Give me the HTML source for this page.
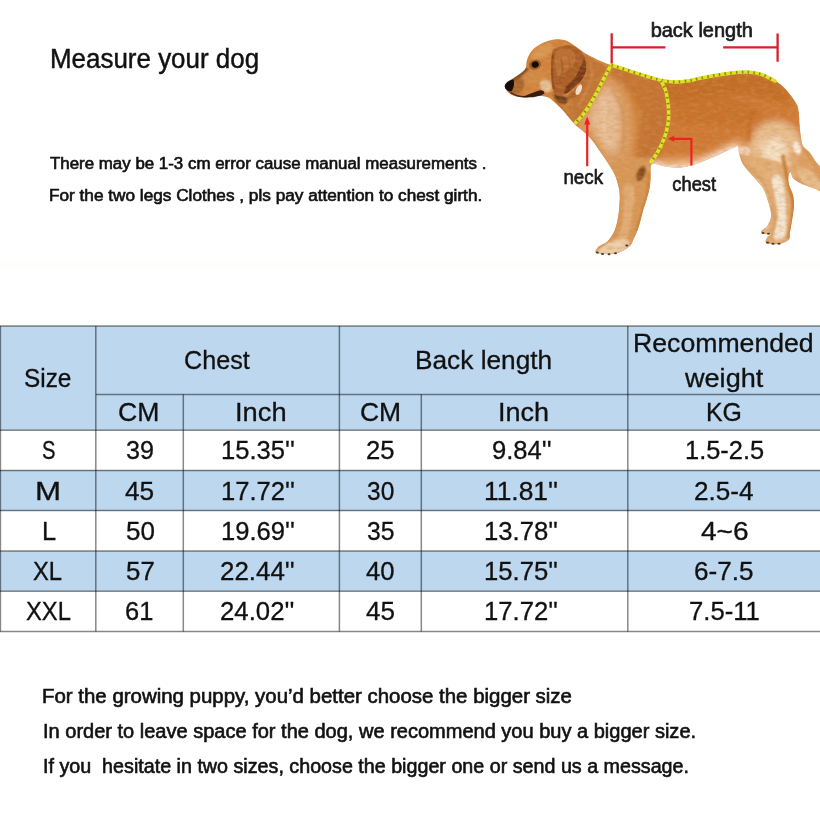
<!DOCTYPE html>
<html lang="en">
<head>
<meta charset="utf-8">
<title>Measure your dog - size chart</title>
<style>
html,body{margin:0;padding:0;background:#fff;}
body{width:820px;height:820px;position:relative;overflow:hidden;font-family:"Liberation Sans",sans-serif;color:#111;}
.t{position:absolute;white-space:pre;line-height:1;transform-origin:0 0;margin:0;font-weight:normal;}
.sb{-webkit-text-stroke:0.6px #111;}
#h1{-webkit-text-stroke:0.45px #111;}
table span{-webkit-text-stroke:0.3px #111;}
#dog{position:absolute;left:0;top:0;}
#grid{position:absolute;left:0;top:0;pointer-events:none;}
table{position:absolute;left:0;top:326px;width:820px;border-collapse:collapse;border-spacing:0;table-layout:fixed;font-size:25px;}
#band{position:absolute;left:0;top:263px;width:820px;height:4px;background:#fffdf8;}
td,th{padding:0;margin:0;font-weight:normal;text-align:center;vertical-align:middle;overflow:visible;}
.b{background:#bdd7ee;}
td span,th span{position:absolute;white-space:pre;line-height:1;transform-origin:0 0;left:0;top:0;}
</style>
</head>
<body>
<div id="band"></div>
<svg id="dog" width="820" height="820" viewBox="0 0 820 820" role="img" aria-label="Dog measuring guide">
<defs>
<clipPath id="dc"><path d="M504.9,86.3 C504.9,84.8 506.1,83.3 507.5,82.0 C508.9,80.7 510.6,80.1 513.0,78.5 C515.4,76.9 519.8,74.1 522.0,72.3 C524.2,70.5 525.1,69.6 526.0,67.5 C526.9,65.4 526.2,62.2 527.2,59.5 C528.2,56.8 529.5,53.5 531.7,51.0 C533.9,48.5 537.1,46.1 540.2,44.3 C543.3,42.5 547.2,41.0 550.5,40.2 C553.8,39.4 557.2,39.2 560.0,39.4 C562.8,39.6 565.0,40.1 567.5,41.2 C570.0,42.3 572.0,44.0 575.0,46.0 C578.0,48.0 581.2,50.9 585.4,53.4 C589.6,55.9 595.8,58.8 600.0,60.7 C604.2,62.6 606.3,63.6 610.7,65.0 C615.1,66.4 620.9,67.6 626.6,69.3 C632.3,71.0 639.2,73.7 644.9,75.4 C650.6,77.1 655.6,78.6 660.7,79.6 C665.8,80.6 670.5,81.2 675.4,81.3 C680.3,81.4 686.4,80.5 690.0,80.0 C693.6,79.5 693.0,79.2 697.0,78.4 C701.0,77.6 708.4,76.0 714.1,75.0 C719.8,74.0 725.5,73.0 731.2,72.4 C736.9,71.8 743.2,71.3 748.3,71.6 C753.4,71.9 757.5,72.5 762.0,74.1 C766.5,75.7 771.6,78.4 775.6,81.0 C779.6,83.6 782.5,85.8 785.9,89.5 C789.3,93.2 794.0,99.5 796.1,103.2 C798.2,106.9 798.1,108.0 798.7,111.7 C799.3,115.4 799.1,120.9 799.5,125.4 C799.9,130.0 800.6,135.6 801.2,139.0 C801.8,142.4 801.6,143.6 803.0,145.9 C804.4,148.2 807.6,150.0 809.8,152.7 C812.0,155.4 814.0,158.9 816.0,162.0 C818.0,165.1 820.8,166.2 822.0,171.0 C823.2,175.8 824.0,188.0 823.0,191.0 C822.0,194.0 818.3,189.8 816.0,189.1 C813.7,188.4 811.8,187.6 809.3,186.6 C806.8,185.6 803.3,184.5 800.7,183.2 C798.1,181.8 795.2,180.4 793.5,178.5 C791.8,176.6 791.4,172.4 790.5,172.0 C789.6,171.6 788.6,174.2 788.4,176.3 C788.1,178.5 788.2,181.8 789.0,184.9 C789.8,188.0 792.2,191.7 793.0,195.1 C793.8,198.5 794.0,201.4 793.9,205.4 C793.8,209.4 792.9,214.4 792.2,219.0 C791.5,223.6 790.4,229.3 789.8,232.7 C789.2,236.1 790.4,237.7 788.8,239.5 C787.2,241.3 783.6,243.1 780.2,243.8 C776.8,244.5 770.7,244.2 768.3,243.8 C765.9,243.4 765.8,242.3 765.7,241.2 C765.6,240.1 766.6,238.2 767.5,237.0 C768.4,235.8 771.7,234.6 771.0,234.0 C770.3,233.4 764.8,234.0 763.2,233.5 C761.6,233.0 760.8,232.3 761.5,231.0 C762.2,229.7 765.9,228.4 767.5,225.8 C769.1,223.2 771.1,219.6 771.2,215.6 C771.3,211.6 769.6,206.4 768.3,201.9 C767.0,197.4 765.5,192.3 763.2,188.3 C760.9,184.3 757.9,182.0 754.6,178.0 C751.3,174.0 745.8,168.4 743.2,164.4 C740.7,160.4 740.2,157.1 739.3,154.1 C738.4,151.1 739.0,147.5 738.0,146.5 C737.0,145.5 736.5,146.5 733.0,148.0 C729.5,149.5 721.7,153.4 717.0,155.5 C712.3,157.6 709.0,158.9 705.0,160.5 C701.0,162.1 697.3,163.8 693.0,165.0 C688.7,166.2 683.9,167.3 679.3,167.6 C674.7,167.9 669.5,167.2 665.6,166.6 C661.7,166.0 658.4,164.2 656.0,164.0 C653.6,163.8 651.9,163.4 651.0,165.5 C650.1,167.6 650.8,172.6 650.6,176.3 C650.4,180.1 650.3,184.1 649.6,188.0 C648.9,191.9 647.5,196.3 646.4,200.0 C645.3,203.7 644.2,206.7 643.2,210.0 C642.2,213.3 641.5,216.7 640.6,220.0 C639.7,223.3 638.8,226.8 637.6,230.0 C636.4,233.2 634.9,236.3 633.6,239.0 C632.3,241.7 632.1,244.0 629.6,246.3 C627.1,248.6 623.0,251.3 618.8,252.6 C614.5,253.9 608.0,254.1 604.1,254.0 C600.2,253.9 596.5,253.6 595.6,252.3 C594.8,251.0 597.0,248.2 599.0,246.3 C601.0,244.5 605.0,243.8 607.6,241.2 C610.2,238.6 612.7,234.7 614.4,231.0 C616.1,227.3 616.9,223.3 617.8,219.0 C618.6,214.7 619.2,210.0 619.5,205.4 C619.8,200.8 620.1,196.3 619.5,191.7 C618.9,187.1 617.5,182.0 616.1,178.0 C614.7,174.0 613.6,172.1 611.0,167.8 C608.4,163.5 604.0,157.1 600.7,152.4 C597.5,147.7 594.3,142.9 591.5,139.5 C588.7,136.1 586.6,134.3 584.0,132.0 C581.4,129.7 578.6,128.0 576.0,125.5 C573.4,123.0 570.8,119.7 568.3,116.8 C565.8,113.9 563.4,110.8 561.0,108.3 C558.6,105.8 556.0,103.3 553.7,101.5 C551.5,99.7 550.4,98.2 547.5,97.2 C544.6,96.2 540.5,95.8 536.6,95.8 C532.8,95.8 528.3,97.3 524.4,97.3 C520.5,97.2 516.2,96.5 513.4,95.5 C510.5,94.5 508.7,92.7 507.3,91.2 C505.9,89.7 504.9,87.8 504.9,86.3Z"/></clipPath>
<filter id="soft" x="-10%" y="-10%" width="120%" height="120%"><feGaussianBlur stdDeviation="0.5"/></filter>
<filter id="fur" x="0" y="0" width="100%" height="100%"><feTurbulence type="fractalNoise" baseFrequency="0.14 0.32" numOctaves="2" seed="7"/><feColorMatrix type="matrix" values="0 0 0 0 0.55  0 0 0 0 0.26  0 0 0 0 0.06  1.6 0 0 0 -0.62"/></filter>
<filter id="fur2" x="0" y="0" width="100%" height="100%"><feTurbulence type="fractalNoise" baseFrequency="0.16 0.3" numOctaves="2" seed="11"/><feColorMatrix type="matrix" values="0 0 0 0 1  0 0 0 0 0.9  0 0 0 0 0.75  1.6 0 0 0 -0.7"/></filter>
<filter id="bl3" x="-20%" y="-20%" width="140%" height="140%"><feGaussianBlur stdDeviation="0.7"/></filter>
<filter id="bl2" x="-20%" y="-20%" width="140%" height="140%"><feGaussianBlur stdDeviation="1.1"/></filter>
<filter id="bl" x="-20%" y="-20%" width="140%" height="140%"><feGaussianBlur stdDeviation="3"/></filter>
</defs>
<g filter="url(#soft)">
<g clip-path="url(#dc)">
<rect x="495" y="30" width="330" height="235" fill="#d68c46"/>
<g filter="url(#bl)"><path d="M655.0,78.0 C662.5,74.0 684.2,77.3 700.0,76.0 C715.8,74.7 736.7,69.0 750.0,70.0 C763.3,71.0 772.0,75.3 780.0,82.0 C788.0,88.7 794.7,100.3 798.0,110.0 C801.3,119.7 806.3,135.0 800.0,140.0 C793.7,145.0 770.3,138.3 760.0,140.0 C749.7,141.7 748.0,145.7 738.0,150.0 C728.0,154.3 713.0,162.7 700.0,166.0 C687.0,169.3 668.3,174.3 660.0,170.0 C651.7,165.7 650.8,151.7 650.0,140.0 C649.2,128.3 654.2,110.3 655.0,100.0 C655.8,89.7 647.5,82.0 655.0,78.0Z" fill="#cf7832" opacity="0.97"/><path d="M664.0,80.0 C669.3,76.3 685.7,79.5 700.0,78.0 C714.3,76.5 737.0,70.3 750.0,71.0 C763.0,71.7 770.5,76.5 778.0,82.0 C785.5,87.5 796.3,101.0 795.0,104.0 C793.7,107.0 779.2,101.7 770.0,100.0 C760.8,98.3 751.7,94.3 740.0,94.0 C728.3,93.7 712.0,97.0 700.0,98.0 C688.0,99.0 674.0,103.0 668.0,100.0 C662.0,97.0 658.7,83.7 664.0,80.0Z" fill="#c06a26" opacity="0.8"/><path d="M672.0,100.0 C676.0,95.7 688.7,96.0 700.0,96.0 C711.3,96.0 730.0,97.3 740.0,100.0 C750.0,102.7 760.0,107.7 760.0,112.0 C760.0,116.3 750.0,124.0 740.0,126.0 C730.0,128.0 710.7,124.7 700.0,124.0 C689.3,123.3 680.7,126.0 676.0,122.0 C671.3,118.0 668.0,104.3 672.0,100.0Z" fill="#c46c26" opacity="0.6"/><path d="M656.0,160.0 C663.5,157.7 686.3,159.3 700.0,156.0 C713.7,152.7 731.0,140.7 738.0,140.0 C745.0,139.3 745.8,148.3 742.0,152.0 C738.2,155.7 725.3,158.7 715.0,162.0 C704.7,165.3 690.0,170.7 680.0,172.0 C670.0,173.3 659.0,172.0 655.0,170.0 C651.0,168.0 648.5,162.3 656.0,160.0Z" fill="#eeb27a" opacity="0.9"/><path d="M612.0,64.0 C617.0,63.3 631.7,69.3 640.0,72.0 C648.3,74.7 657.3,73.7 662.0,80.0 C666.7,86.3 667.7,100.0 668.0,110.0 C668.3,120.0 667.0,131.0 664.0,140.0 C661.0,149.0 654.7,161.3 650.0,164.0 C645.3,166.7 638.0,164.0 636.0,156.0 C634.0,148.0 639.7,127.3 638.0,116.0 C636.3,104.7 630.7,94.7 626.0,88.0 C621.3,81.3 612.3,80.0 610.0,76.0 C607.7,72.0 607.0,64.7 612.0,64.0Z" fill="#c47230" opacity="0.95"/><path d="M594.0,98.0 C599.0,90.7 603.7,79.7 608.0,78.0 C612.3,76.3 616.3,82.7 620.0,88.0 C623.7,93.3 628.0,101.3 630.0,110.0 C632.0,118.7 632.7,131.0 632.0,140.0 C631.3,149.0 629.3,159.3 626.0,164.0 C622.7,168.7 616.3,170.0 612.0,168.0 C607.7,166.0 604.3,158.3 600.0,152.0 C595.7,145.7 589.7,135.0 586.0,130.0 C582.3,125.0 576.7,127.3 578.0,122.0 C579.3,116.7 589.0,105.3 594.0,98.0Z" fill="#dc9f66" opacity="0.9"/><path d="M596.0,100.0 C598.7,95.0 602.7,88.7 606.0,88.0 C609.3,87.3 613.7,90.7 616.0,96.0 C618.3,101.3 619.7,111.7 620.0,120.0 C620.3,128.3 620.0,140.7 618.0,146.0 C616.0,151.3 611.7,154.0 608.0,152.0 C604.3,150.0 599.0,139.7 596.0,134.0 C593.0,128.3 590.0,123.7 590.0,118.0 C590.0,112.3 593.3,105.0 596.0,100.0Z" fill="#e8c09a" opacity="0.9"/><path d="M748.0,150.0 C749.0,143.7 752.0,134.8 756.0,130.0 C760.0,125.2 766.2,121.8 772.0,121.0 C777.8,120.2 786.3,122.3 791.0,125.0 C795.7,127.7 798.2,132.8 800.0,137.0 C801.8,141.2 803.0,145.5 802.0,150.0 C801.0,154.5 796.0,158.0 794.0,164.0 C792.0,170.0 793.0,181.7 790.0,186.0 C787.0,190.3 781.0,190.7 776.0,190.0 C771.0,189.3 764.3,185.7 760.0,182.0 C755.7,178.3 752.0,173.3 750.0,168.0 C748.0,162.7 747.0,156.3 748.0,150.0Z" fill="#ebc196" opacity="0.95"/><path d="M762.0,146.0 C764.3,141.7 772.0,137.7 776.0,138.0 C780.0,138.3 784.7,141.7 786.0,148.0 C787.3,154.3 786.5,170.5 784.0,176.0 C781.5,181.5 774.7,183.0 771.0,181.0 C767.3,179.0 763.5,169.8 762.0,164.0 C760.5,158.2 759.7,150.3 762.0,146.0Z" fill="#f6e4cc" opacity="0.9"/><path d="M792.0,150.0 C794.3,145.0 800.7,144.7 806.0,148.0 C811.3,151.3 821.0,162.7 824.0,170.0 C827.0,177.3 827.0,189.3 824.0,192.0 C821.0,194.7 811.3,188.3 806.0,186.0 C800.7,183.7 794.3,184.0 792.0,178.0 C789.7,172.0 789.7,155.0 792.0,150.0Z" fill="#dfa268" opacity="0.97"/><path d="M650.0,165.0 C651.3,165.6 655.0,167.6 658.0,168.5 C661.0,169.4 664.3,170.1 668.0,170.5 C671.7,170.9 675.7,171.3 680.0,171.0 C684.3,170.7 689.7,169.7 694.0,168.5 C698.3,167.3 702.0,165.7 706.0,164.0 C710.0,162.3 713.0,160.8 718.0,158.5 C723.0,156.2 733.0,151.8 736.0,150.5" fill="none" stroke="#ffffff" stroke-width="8" stroke-linecap="round" opacity="0.9"/></g>
<g filter="url(#bl2)"><path d="M608.0,162.0 C613.7,158.7 642.8,155.3 650.0,160.0 C657.2,164.7 652.5,180.8 651.0,190.0 C649.5,199.2 644.2,205.8 641.0,215.0 C637.8,224.2 636.8,238.2 632.0,245.0 C627.2,251.8 618.3,254.5 612.0,256.0 C605.7,257.5 594.0,257.3 594.0,254.0 C594.0,250.7 607.8,244.2 612.0,236.0 C616.2,227.8 618.3,214.3 619.0,205.0 C619.7,195.7 617.8,187.2 616.0,180.0 C614.2,172.8 602.3,165.3 608.0,162.0Z" fill="#d8985a" opacity="0.95"/><path d="M624.0,186.0 C625.7,182.7 633.3,181.7 634.0,190.0 C634.7,198.3 632.0,225.7 628.0,236.0 C624.0,246.3 611.3,252.7 610.0,252.0 C608.7,251.3 617.7,239.0 620.0,232.0 C622.3,225.0 623.3,217.7 624.0,210.0 C624.7,202.3 622.3,189.3 624.0,186.0Z" fill="#e3b07c" opacity="0.85"/><path d="M612.0,241.0 C616.3,239.8 625.7,238.5 628.0,240.0 C630.3,241.5 629.7,247.3 626.0,250.0 C622.3,252.7 611.2,255.5 606.0,256.0 C600.8,256.5 595.7,254.5 595.0,253.0 C594.3,251.5 599.2,249.0 602.0,247.0 C604.8,245.0 607.7,242.2 612.0,241.0Z" fill="#efd4b2" opacity="0.9"/><path d="M649.0,174.0 C648.8,177.0 648.6,186.0 647.5,192.0 C646.4,198.0 644.2,203.7 642.5,210.0 C640.8,216.3 637.9,226.7 637.0,230.0" fill="none" stroke="#c47c34" stroke-width="2.8" stroke-linecap="round" opacity="0.85"/><path d="M613.0,172.0 C613.8,175.0 617.2,183.3 618.0,190.0 C618.8,196.7 618.7,205.0 618.0,212.0 C617.3,219.0 614.7,228.7 614.0,232.0" fill="none" stroke="#cf8a4a" stroke-width="2" stroke-linecap="round" opacity="0.7"/><ellipse cx="641" cy="173.5" rx="4.2" ry="8" fill="#7e4018" opacity="0.9" transform="rotate(22 641 173.5)"/><path d="M742.0,156.0 C746.3,152.0 781.2,159.8 790.0,168.0 C798.8,176.2 795.0,193.0 795.0,205.0 C795.0,217.0 794.8,233.3 790.0,240.0 C785.2,246.7 771.0,246.3 766.0,245.0 C761.0,243.7 759.0,237.2 760.0,232.0 C761.0,226.8 771.3,220.7 772.0,214.0 C772.7,207.3 769.0,201.7 764.0,192.0 C759.0,182.3 737.7,160.0 742.0,156.0Z" fill="#e2ae78" opacity="0.97"/><path d="M772.0,178.0 C772.8,172.7 780.7,173.0 783.0,182.0 C785.3,191.0 787.5,222.7 786.0,232.0 C784.5,241.3 775.3,241.0 774.0,238.0 C772.7,235.0 778.3,224.0 778.0,214.0 C777.7,204.0 771.2,183.3 772.0,178.0Z" fill="#f7e8d6" opacity="0.95"/><path d="M753.0,176.0 C752.3,171.7 759.2,177.3 762.0,182.0 C764.8,186.7 768.7,197.0 770.0,204.0 C771.3,211.0 770.8,219.7 770.0,224.0 C769.2,228.3 765.7,232.7 765.0,230.0 C764.3,227.3 768.0,217.0 766.0,208.0 C764.0,199.0 753.7,180.3 753.0,176.0Z" fill="#e9c092" opacity="0.85"/><ellipse cx="745" cy="151" rx="5.5" ry="4.5" fill="#fbf3e8" opacity="0.6" transform="rotate(0 745 151)"/><path d="M754.0,110.0 C753.3,112.3 750.8,119.0 750.0,124.0 C749.2,129.0 749.2,137.3 749.0,140.0" fill="none" stroke="#bf651c" stroke-width="3.2" stroke-linecap="round" opacity="0.55"/><path d="M754.0,170.0 C755.8,172.7 762.0,180.3 765.0,186.0 C768.0,191.7 770.3,198.0 772.0,204.0 C773.7,210.0 775.2,216.7 775.0,222.0 C774.8,227.3 771.7,233.7 771.0,236.0" fill="none" stroke="#d09458" stroke-width="1.6" stroke-linecap="round" opacity="0.8"/><path d="M783.0,156.0 C783.4,158.3 784.5,165.0 785.5,170.0 C786.5,175.0 787.8,180.7 789.0,186.0 C790.2,191.3 792.5,196.3 793.0,202.0 C793.5,207.7 792.7,214.2 792.0,220.0 C791.3,225.8 789.5,234.2 789.0,237.0" fill="none" stroke="#c9782c" stroke-width="3.8" stroke-linecap="round" opacity="0.95"/><path d="M744.0,154.0 C744.8,156.0 746.8,162.0 749.0,166.0 C751.2,170.0 755.7,176.0 757.0,178.0" fill="none" stroke="#dea068" stroke-width="2.5" stroke-linecap="round" opacity="0.8"/><ellipse cx="797" cy="148" rx="3.6" ry="7" fill="#fdf6ec" opacity="0.95" transform="rotate(-15 797 148)"/><path d="M797.0,170.0 C798.0,167.7 807.7,168.7 812.0,172.0 C816.3,175.3 824.0,187.7 823.0,190.0 C822.0,192.3 810.3,189.3 806.0,186.0 C801.7,182.7 796.0,172.3 797.0,170.0Z" fill="#ebc296" opacity="0.8"/><path d="M804.0,150.0 C805.7,152.3 811.0,159.3 814.0,164.0 C817.0,168.7 820.7,175.7 822.0,178.0" fill="none" stroke="#d08c4a" stroke-width="2" stroke-linecap="round" opacity="0.7"/><path d="M794.0,160.0 C795.3,162.0 799.0,168.3 802.0,172.0 C805.0,175.7 810.3,180.3 812.0,182.0" fill="none" stroke="#e8bd90" stroke-width="1.5" stroke-linecap="round" opacity="0.7"/><path d="M526.0,60.0 C528.0,56.2 529.7,53.6 532.0,51.0 C534.3,48.4 537.2,46.2 540.0,44.5 C542.8,42.8 545.8,41.8 549.0,41.0 C552.2,40.2 556.0,39.5 559.0,39.5 C562.0,39.5 564.3,39.9 567.0,41.0 C569.7,42.1 571.2,43.5 575.0,46.0 C578.8,48.5 585.8,52.0 590.0,56.0 C594.2,60.0 600.0,62.7 600.0,70.0 C600.0,77.3 594.2,91.7 590.0,100.0 C585.8,108.3 580.0,119.0 575.0,120.0 C570.0,121.0 564.5,110.0 560.0,106.0 C555.5,102.0 553.0,97.5 548.0,96.0 C543.0,94.5 536.0,97.2 530.0,97.0 C524.0,96.8 516.0,96.8 512.0,95.0 C508.0,93.2 504.7,89.5 506.0,86.0 C507.3,82.5 516.7,78.3 520.0,74.0 C523.3,69.7 524.0,63.8 526.0,60.0Z" fill="#cf823c" opacity="0.98"/><path d="M531.0,55.0 C532.2,52.7 537.7,48.0 541.0,46.0 C544.3,44.0 549.3,42.0 551.0,43.0 C552.7,44.0 552.3,49.5 551.0,52.0 C549.7,54.5 545.8,56.7 543.0,58.0 C540.2,59.3 536.0,60.5 534.0,60.0 C532.0,59.5 529.8,57.3 531.0,55.0Z" fill="#dc9a56" opacity="0.85"/><path d="M524.0,72.0 C526.3,69.7 530.3,70.0 534.0,70.0 C537.7,70.0 544.3,70.0 546.0,72.0 C547.7,74.0 546.7,79.7 544.0,82.0 C541.3,84.3 534.0,85.7 530.0,86.0 C526.0,86.3 521.0,86.3 520.0,84.0 C519.0,81.7 521.7,74.3 524.0,72.0Z" fill="#d48c48" opacity="0.7"/><path d="M507.0,84.0 C508.2,83.2 511.5,80.8 514.0,79.0 C516.5,77.2 519.8,75.2 522.0,73.5 C524.2,71.8 526.2,69.8 527.0,69.0" fill="none" stroke="#3a1e0e" stroke-width="3" stroke-linecap="round" opacity="0.75"/><path d="M506.0,86.0 C506.7,83.8 511.3,81.5 514.0,80.0 C516.7,78.5 520.3,76.0 522.0,77.0 C523.7,78.0 524.7,83.2 524.0,86.0 C523.3,88.8 520.3,92.8 518.0,94.0 C515.7,95.2 512.0,94.3 510.0,93.0 C508.0,91.7 505.3,88.2 506.0,86.0Z" fill="#9a5826" opacity="0.75"/><path d="M541.0,81.0 C542.5,79.9 548.3,80.0 550.0,81.5 C551.7,83.0 551.8,88.2 551.0,90.0 C550.2,91.8 546.7,92.3 545.0,92.0 C543.3,91.7 541.7,89.8 541.0,88.0 C540.3,86.2 539.5,82.1 541.0,81.0Z" fill="#edcba6" opacity="0.9"/><path d="M585.0,56.0 C586.0,54.3 590.7,58.7 592.0,62.0 C593.3,65.3 594.0,71.3 593.0,76.0 C592.0,80.7 589.2,86.3 586.0,90.0 C582.8,93.7 577.3,96.7 574.0,98.0 C570.7,99.3 565.3,100.0 566.0,98.0 C566.7,96.0 574.7,90.3 578.0,86.0 C581.3,81.7 584.8,77.0 586.0,72.0 C587.2,67.0 584.0,57.7 585.0,56.0Z" fill="#8a4a1e" opacity="0.6"/><path d="M553.0,94.0 C553.3,92.8 557.7,94.3 560.0,95.0 C562.3,95.7 566.0,96.5 567.0,98.0 C568.0,99.5 567.5,103.3 566.0,104.0 C564.5,104.7 560.2,103.7 558.0,102.0 C555.8,100.3 552.7,95.2 553.0,94.0Z" fill="#5e2c10" opacity="0.9"/><path d="M584.0,56.0 C586.0,54.7 594.3,60.0 598.0,62.0 C601.7,64.0 606.0,63.7 606.0,68.0 C606.0,72.3 601.3,81.3 598.0,88.0 C594.7,94.7 589.7,102.7 586.0,108.0 C582.3,113.3 579.0,120.0 576.0,120.0 C573.0,120.0 568.3,111.7 568.0,108.0 C567.7,104.3 571.7,102.0 574.0,98.0 C576.3,94.0 580.0,88.7 582.0,84.0 C584.0,79.3 585.7,74.7 586.0,70.0 C586.3,65.3 582.0,57.3 584.0,56.0Z" fill="#c07232" opacity="0.92"/><path d="M590.0,62.0 C590.3,64.3 592.7,71.0 592.0,76.0 C591.3,81.0 588.3,87.0 586.0,92.0 C583.7,97.0 579.3,103.7 578.0,106.0" fill="none" stroke="#d99a5c" stroke-width="1.8" stroke-linecap="round" opacity="0.6"/><path d="M555.0,101.0 C556.2,102.2 559.5,105.7 562.0,108.5 C564.5,111.3 567.5,115.2 570.0,118.0 C572.5,120.8 575.8,123.8 577.0,125.0" fill="none" stroke="#a8622a" stroke-width="2.2" stroke-linecap="round" opacity="0.7"/><path d="M600.0,98.0 C601.0,100.0 605.3,105.0 606.0,110.0 C606.7,115.0 603.3,122.0 604.0,128.0 C604.7,134.0 609.0,143.0 610.0,146.0" fill="none" stroke="#efcfaa" stroke-width="2" stroke-linecap="round" opacity="0.6"/><path d="M612.0,90.0 C613.7,93.0 620.0,101.3 622.0,108.0 C624.0,114.7 624.0,123.0 624.0,130.0 C624.0,137.0 622.3,146.7 622.0,150.0" fill="none" stroke="#cc8a4e" stroke-width="2" stroke-linecap="round" opacity="0.6"/></g>
<g filter="url(#bl3)"><path d="M552.9,50.5 C554.6,47.5 558.4,47.1 561.5,46.2 C564.6,45.4 568.6,44.7 571.7,45.4 C574.8,46.1 577.9,48.2 580.2,50.5 C582.5,52.8 584.4,55.9 585.4,59.0 C586.4,62.1 586.8,65.9 586.2,69.3 C585.6,72.7 584.1,76.4 582.0,79.5 C579.9,82.6 576.2,85.6 573.4,88.0 C570.5,90.4 567.6,92.7 564.9,94.0 C562.2,95.3 559.2,96.4 557.2,95.7 C555.2,95.0 553.9,92.8 552.9,89.8 C551.9,86.8 551.5,82.1 551.2,77.8 C550.9,73.5 550.9,68.6 551.2,64.1 C551.5,59.5 551.2,53.5 552.9,50.5Z" fill="#a95c26" opacity="1"/><path d="M556.0,52.0 C557.8,49.4 563.0,48.5 566.0,48.5 C569.0,48.5 572.5,49.8 574.0,52.0 C575.5,54.2 576.2,58.8 575.0,62.0 C573.8,65.2 569.8,68.8 567.0,71.0 C564.2,73.2 560.0,76.2 558.0,75.0 C556.0,73.8 555.3,67.8 555.0,64.0 C554.7,60.2 554.2,54.6 556.0,52.0Z" fill="#bf7234" opacity="0.8"/><path d="M584.0,59.0 C585.0,59.2 586.5,65.9 586.2,69.3 C585.9,72.7 584.1,76.4 582.0,79.5 C579.9,82.6 576.2,85.6 573.4,88.0 C570.5,90.4 566.1,94.2 564.9,94.0 C563.7,93.8 564.5,89.5 566.0,87.0 C567.5,84.5 571.7,82.2 574.0,79.0 C576.3,75.8 578.3,71.3 580.0,68.0 C581.7,64.7 583.0,58.8 584.0,59.0Z" fill="#6c3010" opacity="0.85"/><path d="M552.8,56.0 C552.7,57.7 552.3,62.3 552.2,66.0 C552.1,69.7 552.1,74.3 552.4,78.0 C552.7,81.7 553.7,86.3 554.0,88.0" fill="none" stroke="#7a3a14" stroke-width="2" stroke-linecap="round" opacity="0.6"/><path d="M561.0,58.0 C561.2,59.7 562.7,64.3 562.5,68.0 C562.3,71.7 560.4,78.0 560.0,80.0" fill="none" stroke="#8c4a1c" stroke-width="1.6" stroke-linecap="round" opacity="0.45"/><path d="M568.0,56.0 C568.3,57.7 570.3,62.7 570.0,66.0 C569.7,69.3 566.7,74.3 566.0,76.0" fill="none" stroke="#9a5422" stroke-width="1.4" stroke-linecap="round" opacity="0.4"/><ellipse cx="578.8" cy="89.6" rx="2.6" ry="5.6" fill="#f7e8d6" opacity="0.97" transform="rotate(24 578.8 89.6)"/></g>
<rect x="495" y="30" width="330" height="235" filter="url(#fur)" opacity="0.45"/>
<rect x="495" y="30" width="330" height="235" filter="url(#fur2)" opacity="0.16"/>
</g>
<ellipse cx="535.0" cy="64.6" rx="6.2" ry="5.0" fill="#6e3a16" opacity="0.5" transform="rotate(-20 535 64.6)"/><ellipse cx="535.2" cy="64.5" rx="3.6" ry="3.1" fill="#120906" transform="rotate(-20 535.2 64.5)"/><path d="M504.6,86.6 C505.2,83.2 508.5,80.6 513.4,79.6 C514.6,82.5 514.2,86.5 512,90.8 C509.5,93.0 505.6,90.2 504.6,86.6Z" fill="#160d09"/><path d="M510.5,92.3 C516,96.0 523,97.4 529,96.4" stroke="#3a1d0e" stroke-width="1.5" fill="none" opacity="0.85"/><path d="M521,96.8 C528,95.4 534,91.8 540,90.2 C543,90 544.8,91.4 544.4,93.4 C540,96.6 531,98.2 521,96.8Z" fill="#2e150a" opacity="0.95"/><ellipse cx="597.3" cy="252.4" rx="1.5" ry="1.0" fill="#2a1a10" opacity="0.85"/><ellipse cx="602.5" cy="254" rx="1.5" ry="1.0" fill="#2a1a10" opacity="0.85"/><ellipse cx="609" cy="254.3" rx="1.5" ry="1.0" fill="#2a1a10" opacity="0.85"/><ellipse cx="615.5" cy="253.2" rx="1.5" ry="1.0" fill="#2a1a10" opacity="0.85"/><ellipse cx="626.8" cy="245.5" rx="1.5" ry="1.0" fill="#2a1a10" opacity="0.85"/><ellipse cx="763" cy="233" rx="1.6" ry="1.0" fill="#3a2614" opacity="0.85"/><ellipse cx="768.5" cy="233.8" rx="1.6" ry="1.0" fill="#3a2614" opacity="0.85"/><ellipse cx="767.5" cy="242.4" rx="1.6" ry="1.0" fill="#3a2614" opacity="0.85"/><ellipse cx="773" cy="243.8" rx="1.6" ry="1.0" fill="#3a2614" opacity="0.85"/><ellipse cx="779" cy="243.8" rx="1.6" ry="1.0" fill="#3a2614" opacity="0.85"/>
</g>
<path d="M611.0,65.5 C610.2,66.8 608.0,70.8 606.5,73.5 C605.0,76.2 603.7,78.8 602.0,82.0 C600.3,85.2 598.5,89.2 596.5,93.0 C594.5,96.8 592.2,100.9 590.0,104.5 C587.8,108.1 585.4,111.5 583.0,114.5 C580.6,117.5 576.8,121.4 575.5,122.8" fill="none" stroke="#e0e126" stroke-width="3.5" stroke-linecap="round"/><path d="M611.0,65.5 C610.2,66.8 608.0,70.8 606.5,73.5 C605.0,76.2 603.7,78.8 602.0,82.0 C600.3,85.2 598.5,89.2 596.5,93.0 C594.5,96.8 592.2,100.9 590.0,104.5 C587.8,108.1 585.4,111.5 583.0,114.5 C580.6,117.5 576.8,121.4 575.5,122.8" fill="none" stroke="#5f6a10" stroke-width="2.9" stroke-dasharray="1.5 4.3" opacity="0.7"/><path d="M611.5,65.3 C614.0,66.0 621.0,68.0 626.6,69.8 C632.2,71.5 639.2,74.1 644.9,75.8 C650.6,77.5 655.6,79.2 660.7,80.2 C665.8,81.2 670.5,81.9 675.4,81.9 C680.3,82.0 686.4,81.0 690.0,80.5 C693.6,80.0 693.0,79.7 697.0,78.9 C701.0,78.1 708.4,76.5 714.1,75.5 C719.8,74.5 725.5,73.5 731.2,72.9 C736.9,72.3 743.2,71.8 748.3,72.1 C753.4,72.4 757.5,73.1 762.0,74.6 C766.5,76.1 772.8,79.9 775.0,81.0" fill="none" stroke="#e0e126" stroke-width="3.5" stroke-linecap="round"/><path d="M611.5,65.3 C614.0,66.0 621.0,68.0 626.6,69.8 C632.2,71.5 639.2,74.1 644.9,75.8 C650.6,77.5 655.6,79.2 660.7,80.2 C665.8,81.2 670.5,81.9 675.4,81.9 C680.3,82.0 686.4,81.0 690.0,80.5 C693.6,80.0 693.0,79.7 697.0,78.9 C701.0,78.1 708.4,76.5 714.1,75.5 C719.8,74.5 725.5,73.5 731.2,72.9 C736.9,72.3 743.2,71.8 748.3,72.1 C753.4,72.4 757.5,73.1 762.0,74.6 C766.5,76.1 772.8,79.9 775.0,81.0" fill="none" stroke="#5f6a10" stroke-width="2.9" stroke-dasharray="1.5 4.3" opacity="0.7"/><path d="M661.0,81.0 C661.8,82.5 664.3,86.3 665.5,90.0 C666.7,93.7 667.5,98.3 668.0,103.0 C668.5,107.7 668.9,113.3 668.6,118.0 C668.4,122.7 667.6,126.8 666.5,131.0 C665.4,135.2 663.7,139.7 662.0,143.5 C660.3,147.3 658.3,150.9 656.5,154.0 C654.7,157.1 651.9,160.5 651.0,161.8" fill="none" stroke="#e0e126" stroke-width="3.5" stroke-linecap="round"/><path d="M661.0,81.0 C661.8,82.5 664.3,86.3 665.5,90.0 C666.7,93.7 667.5,98.3 668.0,103.0 C668.5,107.7 668.9,113.3 668.6,118.0 C668.4,122.7 667.6,126.8 666.5,131.0 C665.4,135.2 663.7,139.7 662.0,143.5 C660.3,147.3 658.3,150.9 656.5,154.0 C654.7,157.1 651.9,160.5 651.0,161.8" fill="none" stroke="#5f6a10" stroke-width="2.9" stroke-dasharray="1.5 4.3" opacity="0.7"/>
<g stroke="#d8202e" stroke-width="2.3" fill="none"><path d="M611.7,33.2V63.5M611.7,47.3H665.4M723.2,47.3H777.6M777.6,33.6V61.8"/></g><g stroke="#ee2222" stroke-width="2.2" fill="none"><path d="M587.2,122V166.2"/><path d="M672,138.8H691.4V165.6"/></g><path d="M587.2,116.5 L590.2,124.5 L584.2,124.5Z" fill="#ee2222"/><path d="M668,138.8 L674.2,135.8 L674.2,141.8Z" fill="#ee2222"/>
<g font-family="'Liberation Sans',sans-serif" fill="#1a1a1a" stroke="#1a1a1a" stroke-width="0.65"><text id="lb_back" x="650.65" y="37.20" font-size="19.5" textLength="102.17" lengthAdjust="spacingAndGlyphs">back length</text><text id="lb_neck" x="563.43" y="183.80" font-size="19.5" textLength="39.68" lengthAdjust="spacingAndGlyphs">neck</text><text id="lb_chest" x="672.33" y="191.10" font-size="19.5" textLength="43.71" lengthAdjust="spacingAndGlyphs">chest</text></g>
</svg>
<h1 class="t " id="h1" style="left:49.77px;top:45.74px;font-size:27px;transform:scaleX(0.9608);">Measure your dog</h1>
<p class="t sb" id="p1" style="left:50.44px;top:156.39px;font-size:15.6px;transform:scaleX(1.0827);">There may be 1-3 cm error cause manual measurements .</p>
<p class="t sb" id="p2" style="left:49.36px;top:187.69px;font-size:15.6px;transform:scaleX(1.1034);">For the two legs Clothes , pls pay attention to chest girth.</p>
<p class="t sb" id="n1" style="left:42.40px;top:686.69px;font-size:19.5px;transform:scaleX(1.0476);">For the growing puppy, you’d better choose the bigger size</p>
<p class="t sb" id="n2" style="left:42.74px;top:721.69px;font-size:19.5px;transform:scaleX(1.0264);">In order to leave space for the dog, we recommend you buy a bigger size.</p>
<p class="t sb" id="n3" style="left:42.76px;top:756.99px;font-size:19.5px;transform:scaleX(1.0101);">If you  hesitate in two sizes, choose the bigger one or send us a message.</p>
<table id="sizes"><colgroup><col style="width:96px"><col style="width:87px"><col style="width:156px"><col style="width:82px"><col style="width:207px"><col style="width:192px"></colgroup><thead><tr style="height:68px"><th class="b" rowspan="2"><span style="left:24.34px;top:39.84px;font-size:25px;transform:scaleX(0.9736);">Size</span></th><th class="b" colspan="2"><span style="left:184.12px;top:22.24px;font-size:25px;transform:scaleX(1.0059);">Chest</span></th><th class="b" colspan="2"><span style="left:414.95px;top:22.24px;font-size:25px;transform:scaleX(1.0496);">Back length</span></th><th class="b"><span style="left:633.02px;top:5.34px;font-size:25px;transform:scaleX(1.0657);">Recommended</span> <span style="left:685.02px;top:39.94px;font-size:25px;transform:scaleX(1.0833);">weight</span></th></tr>
<tr style="height:36px"><th class="b"><span style="left:118.45px;top:74.44px;font-size:25px;transform:scaleX(1.0632);">CM</span></th><th class="b"><span style="left:234.57px;top:74.44px;font-size:25px;transform:scaleX(1.0912);">Inch</span></th><th class="b"><span style="left:359.66px;top:74.44px;font-size:25px;transform:scaleX(1.0577);">CM</span></th><th class="b"><span style="left:498.49px;top:74.44px;font-size:25px;transform:scaleX(1.0798);">Inch</span></th><th class="b"><span style="left:706.06px;top:74.44px;font-size:25px;transform:scaleX(0.9938);">KG</span></th></tr></thead><tbody><tr style="height:40px"><td><span style="left:41.87px;top:112.44px;font-size:25px;transform:scaleX(0.8084);">S</span></td><td><span style="left:126.21px;top:112.44px;font-size:25px;transform:scaleX(1.0072);">39</span></td><td><span style="left:220.90px;top:112.44px;font-size:25px;transform:scaleX(1.0233);">15.35''</span></td><td><span style="left:366.20px;top:112.44px;font-size:25px;transform:scaleX(1.0264);">25</span></td><td><span style="left:491.50px;top:112.44px;font-size:25px;transform:scaleX(1.0238);">9.84''</span></td><td><span style="left:684.61px;top:112.44px;font-size:25px;transform:scaleX(1.0165);">1.5-2.5</span></td></tr>
<tr style="height:41px"><td class="b"><span style="left:35.06px;top:152.69px;font-size:25px;transform:scaleX(1.2509);">M</span></td><td class="b"><span style="left:125.29px;top:152.69px;font-size:25px;transform:scaleX(1.0491);">45</span></td><td class="b"><span style="left:220.90px;top:152.69px;font-size:25px;transform:scaleX(1.0233);">17.72''</span></td><td class="b"><span style="left:367.23px;top:152.69px;font-size:25px;transform:scaleX(0.9809);">30</span></td><td class="b"><span style="left:484.35px;top:152.69px;font-size:25px;transform:scaleX(1.0544);">11.81''</span></td><td class="b"><span style="left:693.78px;top:152.69px;font-size:25px;transform:scaleX(1.0437);">2.5-4</span></td></tr>
<tr style="height:40px"><td><span style="left:41.52px;top:192.94px;font-size:25px;transform:scaleX(1.0152);">L</span></td><td><span style="left:125.89px;top:192.94px;font-size:25px;transform:scaleX(1.0415);">50</span></td><td><span style="left:220.90px;top:192.94px;font-size:25px;transform:scaleX(1.0233);">19.69''</span></td><td><span style="left:367.23px;top:192.94px;font-size:25px;transform:scaleX(0.9880);">35</span></td><td><span style="left:484.40px;top:192.94px;font-size:25px;transform:scaleX(1.0262);">13.78''</span></td><td><span style="left:700.96px;top:192.94px;font-size:25px;transform:scaleX(1.1219);">4~6</span></td></tr>
<tr style="height:40px"><td class="b"><span style="left:33.23px;top:233.19px;font-size:25px;transform:scaleX(0.9504);">XL</span></td><td class="b"><span style="left:125.89px;top:233.19px;font-size:25px;transform:scaleX(1.0341);">57</span></td><td class="b"><span style="left:219.99px;top:233.19px;font-size:25px;transform:scaleX(1.0362);">22.44''</span></td><td class="b"><span style="left:366.40px;top:233.19px;font-size:25px;transform:scaleX(1.0263);">40</span></td><td class="b"><span style="left:484.40px;top:233.19px;font-size:25px;transform:scaleX(1.0262);">15.75''</span></td><td class="b"><span style="left:693.78px;top:233.19px;font-size:25px;transform:scaleX(1.0438);">6-7.5</span></td></tr>
<tr style="height:41px"><td><span style="left:25.93px;top:273.44px;font-size:25px;transform:scaleX(0.9516);">XXL</span></td><td><span style="left:125.21px;top:273.44px;font-size:25px;transform:scaleX(1.0186);">61</span></td><td><span style="left:220.39px;top:273.44px;font-size:25px;transform:scaleX(1.0305);">24.02''</span></td><td><span style="left:366.39px;top:273.44px;font-size:25px;transform:scaleX(1.0415);">45</span></td><td><span style="left:484.40px;top:273.44px;font-size:25px;transform:scaleX(1.0262);">17.72''</span></td><td><span style="left:688.60px;top:273.44px;font-size:25px;transform:scaleX(1.0262);">7.5-11</span></td></tr></tbody></table>
<svg id="grid" width="820" height="820" viewBox="0 0 820 820" aria-hidden="true"><g stroke="rgba(0,0,0,0.47)" stroke-width="1.5" fill="none"><line x1="0.0" y1="326.00" x2="820.0" y2="326.00"/><line x1="95.8" y1="394.40" x2="820.0" y2="394.40"/><line x1="0.0" y1="430.20" x2="820.0" y2="430.20"/><line x1="0.0" y1="470.40" x2="820.0" y2="470.40"/><line x1="0.0" y1="510.60" x2="820.0" y2="510.60"/><line x1="0.0" y1="551.00" x2="820.0" y2="551.00"/><line x1="0.0" y1="591.20" x2="820.0" y2="591.20"/><line x1="0.0" y1="631.50" x2="820.0" y2="631.50"/><line x1="0.40" y1="326.0" x2="0.40" y2="631.5"/><line x1="95.80" y1="326.0" x2="95.80" y2="631.5"/><line x1="183.30" y1="394.4" x2="183.30" y2="631.5"/><line x1="339.40" y1="326.0" x2="339.40" y2="631.5"/><line x1="421.30" y1="394.4" x2="421.30" y2="631.5"/><line x1="627.80" y1="326.0" x2="627.80" y2="631.5"/></g></svg>
</body>
</html>
